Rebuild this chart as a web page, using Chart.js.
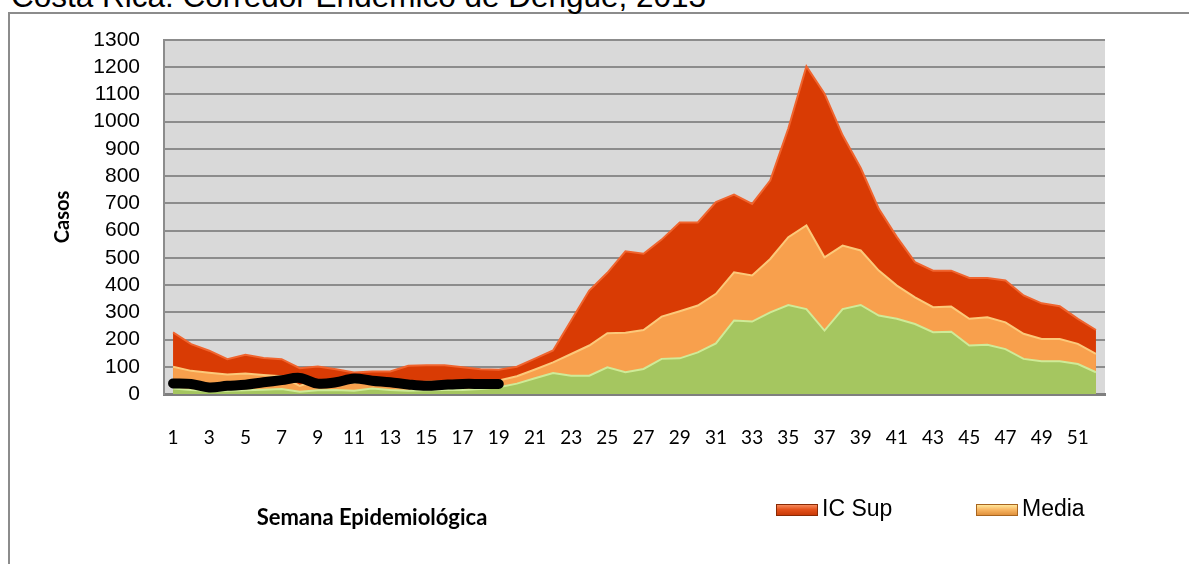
<!DOCTYPE html>
<html>
<head>
<meta charset="utf-8">
<script src="https://cdn.jsdelivr.net/npm/chart.js"></script>
<style>
  html, body { margin: 0; padding: 0; background: #fff; }
  #wrap { position: relative; width: 1189px; height: 564px; overflow: hidden; }
  #frame { position: absolute; left: 8px; top: 12px; width: 1300px; height: 700px;
           border-left: 2px solid #8c8c8c; border-top: 2px solid #8c8c8c; }
  #title { position: absolute; left: 11px; top: -19px; font: 31.5px "Liberation Sans", Arial, sans-serif;
           line-height: 31.5px; white-space: nowrap; color: #000; }
  #chart { position: absolute; left: 0; top: 0; }
  #xtitle { position: absolute; left: 372px; top: 506px; transform: translateX(-50%);
            font: bold 22px Lato, sans-serif; line-height: 22px; white-space: nowrap; }
  .leg { position: absolute; top: 497px; font: 23px "Liberation Sans", Arial, sans-serif;
         line-height: 23px; white-space: nowrap; }
  .sw { position: absolute; top: 504px; width: 40px; height: 10px; }
  #sw1 { left: 776px; border: 1px solid #8a2a05;
         background: linear-gradient(#f68a5c, #e4521c 45%, #c93a08); }
  #sw2 { left: 976px; border: 1px solid #a8651f;
         background: linear-gradient(#ffe79a, #f9b865 45%, #e0913c); }
</style>
</head>
<body>
<div id="wrap">
  <div id="frame"></div>
  <div id="title">Costa Rica: Corredor Endémico de Dengue, 2013</div>
  <canvas id="chart" width="1189" height="564"></canvas>
  <div id="xtitle">Semana Epidemiológica</div>
  <div class="sw" id="sw1"></div><div class="leg" style="left:822px">IC Sup</div>
  <div class="sw" id="sw2"></div><div class="leg" style="left:1022px">Media</div>
</div>
<script>
// semanas epidemiologicas 1..52
const semanas = [];
for (let i = 1; i <= 52; i++) semanas.push(String(i));

const yTicks = [0, 100, 200, 300, 400, 500, 600, 700, 800, 900, 1000, 1100, 1200, 1300];

const icSup = [226, 183, 159, 128, 144, 132, 128, 95, 101, 91,
               79, 83, 83, 104, 106, 106, 98, 91, 89, 100,
               130, 160, 270, 380, 445, 524, 515, 567, 630, 630,
               705, 732, 698, 784, 975, 1203, 1103, 950, 830, 680,
               576, 484, 453, 453, 426, 426, 417, 362, 333, 322,
               276, 235];

const media = [100, 85, 78, 72, 75, 70, 65, 30, 50, 48,
               40, 45, 42, 40, 45, 45, 42, 45, 50, 65,
               90, 116, 147, 178, 223, 225, 235, 284, 304, 325,
               368, 447, 435, 496, 576, 619, 502, 545, 527, 453,
               398, 355, 319, 321, 276, 282, 263, 221, 202, 202,
               184, 147];

const icInf = [20, 15, 12, 12, 14, 16, 18, 8, 14, 15,
               12, 20, 15, 12, 14, 15, 15, 18, 25, 38,
               58, 77, 67, 67, 98, 80, 92, 129, 131, 153,
               186, 270, 266, 300, 327, 312, 233, 312, 327, 288,
               276, 257, 227, 229, 178, 181, 165, 129, 120, 120,
               110, 80];

// casos 2013, hasta la semana 19
const casos2013 = [39, 37, 24, 30, 34, 43, 51, 59, 38, 43,
                   57, 49, 43, 35, 30, 34, 37, 37, 37];

const plotBg = {
  id: "plotBg",
  beforeDraw(chart) {
    const { ctx, chartArea: a } = chart;
    ctx.save();
    ctx.fillStyle = "#d9d9d9";
    ctx.fillRect(a.left, a.top, a.right - a.left, a.bottom - a.top);
    ctx.restore();
  }
};

const ctx = document.getElementById("chart").getContext("2d");
new Chart(ctx, {
  type: "line",
  data: {
    labels: semanas,
    datasets: [
      { label: "IC Sup", data: icSup, fill: "origin", order: 3,
        backgroundColor: "#d93b04", borderColor: "#f0642e", borderWidth: 2,
        pointRadius: 0, tension: 0 },
      { label: "Media", data: media, fill: "origin", order: 2,
        backgroundColor: "#f8a04d", borderColor: "#fcc97a", borderWidth: 2,
        pointRadius: 0, tension: 0 },
      { label: "IC Inf", data: icInf, fill: "origin", order: 1,
        backgroundColor: "#a5c660", borderColor: "#cfeb98", borderWidth: 2,
        pointRadius: 0, tension: 0 },
      { label: "2013", data: casos2013, fill: false, order: 0,
        borderColor: "#000", borderWidth: 10, borderCapStyle: "round",
        borderJoinStyle: "round", pointRadius: 0, tension: 0.35 }
    ]
  },
  options: {
    responsive: false,
    animation: false,
    devicePixelRatio: 1,
    layout: { padding: { left: 0, top: 40, right: 84, bottom: 0 } },
    plugins: {
      legend: { display: false },
      tooltip: { enabled: false }
    },
    scales: {
      x: {
        offset: true,
        grid: { display: false },
        border: { display: true, color: "#7f7f7f", width: 3 },
        afterFit: s => { s.height = 170; },
        ticks: {
          autoSkip: false, maxRotation: 0, padding: 24, color: "#000",
          font: { family: "Lato", size: 19 },
          callback: function (v, i) { return i % 2 === 0 ? this.getLabelForValue(v) : ""; }
        }
      },
      y: {
        min: 0, max: 1300,
        afterFit: s => { s.width = 164; },
        afterBuildTicks: s => { s.ticks = yTicks.map(v => ({ value: v })); },
        grid: { color: "#8c8c8c", lineWidth: 2, drawTicks: false },
        border: { display: true, color: "#8c8c8c", width: 2 },
        ticks: { autoSkip: false, padding: 24, color: "#000", callback: v => String(v),
                 font: { family: "Liberation Sans", size: 21, lineHeight: 1 } },
        title: { display: true, text: "Casos", color: "#000",
                 padding: { top: 51, bottom: 0 },
                 font: { family: "Lato", size: 20, weight: "bold" } }
      }
    }
  },
  plugins: [plotBg]
});
</script>
</body>
</html>
